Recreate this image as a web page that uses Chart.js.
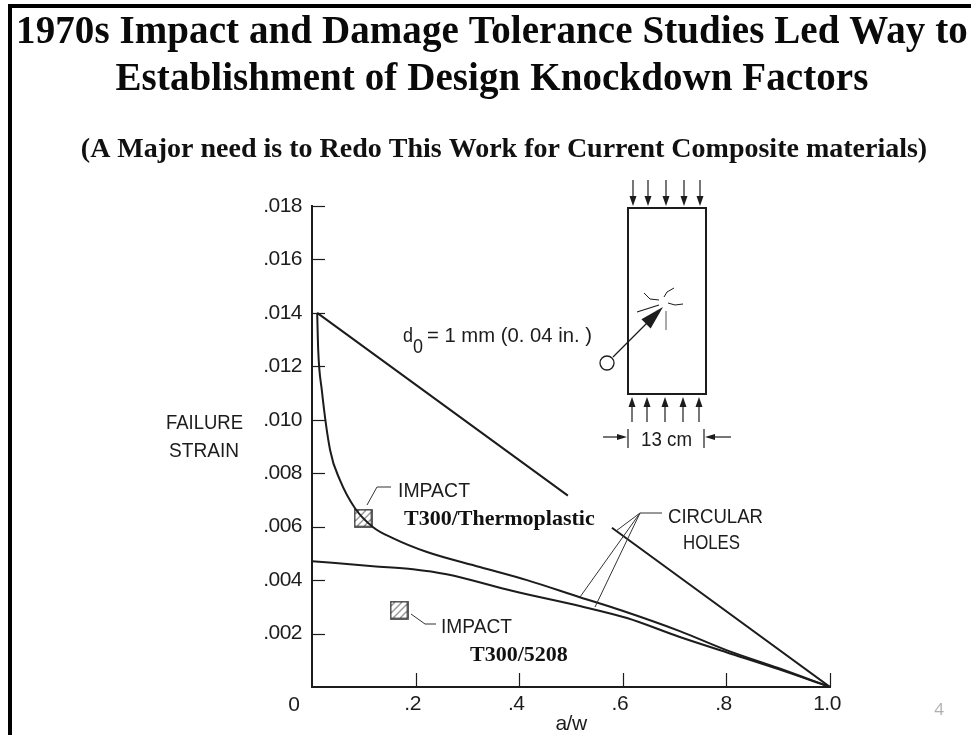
<!DOCTYPE html>
<html><head><meta charset="utf-8">
<style>html,body{margin:0;padding:0;background:#fff}canvas{display:block}</style>
<script src="https://cdn.jsdelivr.net/npm/chart.js@4/dist/chart.umd.min.js"></script>
</head><body>
<canvas id="c" width="971" height="735"></canvas>
<script>
const titleLines = ['1970s Impact and Damage Tolerance Studies Led Way to','Establishment of Design Knockdown Factors'];
const subtitleText = '(A Major need is to Redo This Work for Current Composite materials)';
const xTickValues = [0,0.2,0.4,0.6,0.8,1.0];
const yTickValues = [0.002,0.004,0.006,0.008,0.010,0.012,0.014,0.016,0.018];

const straightA = [0.01,0.494,0.536,0.579,1.0];
const straightStrain = [0.014,0.00716,null,0.00596,0];

const thermoA = [0.01,0.012,0.019,0.035,0.054,0.083,0.118,0.156,0.222,0.324,0.415,0.517,0.595,0.71,0.8,0.9,1.0];
const thermoStrain = [0.014,0.0126,0.0111,0.00886,0.00774,0.00669,0.00598,0.00557,0.00505,0.00449,0.0040,0.00336,0.00288,0.00209,0.00138,0.00071,0];

const t5208A = [0,0.118,0.195,0.26,0.388,0.517,0.608,0.71,0.8,0.9,1.0];
const t5208Strain = [0.00471,0.00452,0.00441,0.00422,0.00359,0.00303,0.00258,0.00187,0.0013,0.00067,0];

const impactA = [0.0985,0.168];
const impactStrain = [0.00632,0.00288];

const INK='#1c1c1c', SANS='"Liberation Sans"', SERIF='"Liberation Serif"';
const pts=(a,b)=>a.map((x,i)=>({x,y:b[i]}));

function hatch(size){
  const c=document.createElement('canvas');c.width=c.height=size;
  const g=c.getContext('2d');g.strokeStyle='#333';g.lineWidth=1;
  g.save();g.beginPath();g.rect(1,1,size-2,size-2);g.clip();
  for(let d=-size;d<size*2;d+=7){g.beginPath();g.moveTo(d,size);g.lineTo(d+size,0);g.stroke();}
  g.restore();
  g.lineWidth=1.6;g.strokeRect(1,1,size-2,size-2);
  return c;
}

function text(ctx,s,x,y,font,sp,color,align,maxW){
  ctx.save();ctx.font=font;ctx.letterSpacing=(sp||0)+'px';ctx.fillStyle=color||INK;
  ctx.textAlign=align||'left';ctx.textBaseline='alphabetic';
  if(maxW)ctx.fillText(s,x,y,maxW);else ctx.fillText(s,x,y);ctx.restore();
}
function poly(ctx,p,w,color){
  ctx.save();ctx.strokeStyle=color||INK;ctx.lineWidth=w||1;ctx.lineJoin='round';ctx.beginPath();
  p.forEach((q,i)=>i?ctx.lineTo(q[0],q[1]):ctx.moveTo(q[0],q[1]));ctx.stroke();ctx.restore();
}
function head(ctx,x,y,ang,len,wid){
  ctx.save();ctx.translate(x,y);ctx.rotate(ang);ctx.fillStyle=INK;ctx.beginPath();
  ctx.moveTo(0,0);ctx.lineTo(-len,-wid/2);ctx.lineTo(-len,wid/2);ctx.closePath();ctx.fill();ctx.restore();
}

const decor={id:'decor',
  beforeDraw(chart){ chart.ctx.letterSpacing='-0.5px'; },
  afterDraw(chart){
    const ctx=chart.ctx, xs=chart.scales.x, ys=chart.scales.y;
    ctx.letterSpacing='0px';
    // frame
    ctx.fillStyle='#000';ctx.fillRect(8,4,963,4);ctx.fillRect(8,4,4,731);
    // titles
    text(ctx,titleLines[0],492,43,'bold 39px '+SERIF,0.08,'#0a0a0a','center');
    text(ctx,titleLines[1],492,90,'bold 39px '+SERIF,0.08,'#0a0a0a','center');
    text(ctx,subtitleText,504,157,'bold 28px '+SERIF,0,'#111','center');
    // inward ticks
    ctx.strokeStyle=INK;ctx.lineWidth=1.2;
    ys.ticks.forEach(t=>{const p=Math.round(ys.getPixelForValue(t.value))+.5;
      if(t.value===0)return;ctx.beginPath();ctx.moveTo(xs.left,p);ctx.lineTo(xs.left+13,p);ctx.stroke();});
    xs.ticks.forEach(t=>{const p=Math.round(xs.getPixelForValue(t.value))+.5;
      if(t.value===0)return;ctx.beginPath();ctx.moveTo(p,ys.bottom);ctx.lineTo(p,ys.bottom-14);ctx.stroke();});
    const LBL='21px '+SANS;
    text(ctx,'0',294,711,LBL,0,INK,'center');
    text(ctx,'FAILURE',166,429,LBL,0,INK,'left',77);
    text(ctx,'STRAIN',169,457,LBL,0,INK,'left',70);
    text(ctx,'IMPACT',398,497,LBL,0,INK,'left',72);
    poly(ctx,[[367,505],[377,487],[391,487]],1,'#333');
    text(ctx,'IMPACT',441,633,LBL,0,INK,'left',71);
    poly(ctx,[[411,614],[425,624],[436,624]],1,'#333');
    text(ctx,'T300/Thermoplastic',404,525,'bold 22px '+SERIF,0,'#111');
    text(ctx,'T300/5208',470,661,'bold 22px '+SERIF,0,'#111');
    text(ctx,'CIRCULAR',668,523,LBL,0,INK,'left',95);
    text(ctx,'HOLES',683,549,LBL,0,INK,'left',57);
    poly(ctx,[[662,513],[640,513],[580,597]],1,'#333');
    poly(ctx,[[640,513],[595,607]],1,'#333');
    poly(ctx,[[640,513],[616,531]],1,'#333');
    text(ctx,'d',403,342,LBL,0,INK,'left',10);
    text(ctx,'0',413,353,LBL,0,INK,'left',10);
    text(ctx,'= 1 mm (0. 04 in. )',427,342,LBL,0,INK,'left',165);
    text(ctx,'13 cm',641,446,LBL,0,INK,'left',51);
    text(ctx,'4',939,715,'17px "Open Sans"',0,'#b0b0b0','center');
    // inset specimen
    ctx.strokeStyle=INK;ctx.lineWidth=2;ctx.strokeRect(628,208,78,186);
    [633,648,666,684,700].forEach(x=>{poly(ctx,[[x,180],[x,200]],1.2);head(ctx,x,206,Math.PI/2,10,7);});
    [632,647,665,683,699].forEach(x=>{poly(ctx,[[x,422],[x,404]],1.2);head(ctx,x,397,-Math.PI/2,10,7);});
    poly(ctx,[[628,429],[628,448]],1.2);poly(ctx,[[704,429],[704,448]],1.2);
    poly(ctx,[[603,437],[618,437]],1.2);head(ctx,627,437,0,10,6);
    poly(ctx,[[731,437],[714,437]],1.2);head(ctx,705,437,Math.PI,10,6);
    ctx.strokeStyle=INK;ctx.lineWidth=1.3;ctx.beginPath();ctx.arc(607,363,7,0,Math.PI*2);ctx.stroke();
    poly(ctx,[[613,357],[650,320]],1.2);
    head(ctx,663,307,-Math.PI*0.25,24,13);
    poly(ctx,[[644,293],[650,299],[659,300]],1);
    poly(ctx,[[664,297],[667,292],[674,288]],1);
    poly(ctx,[[668,303],[675,305],[683,304]],1);
    poly(ctx,[[637,312],[659,305]],1.2);
    poly(ctx,[[666,311],[666,330]],1,'#555');
  }
};

new Chart(document.getElementById('c'),{
  type:'scatter',
  data:{datasets:[
    {label:'Thermoplastic holes',data:pts(thermoA,thermoStrain),showLine:true,borderColor:INK,borderWidth:2,pointRadius:0,cubicInterpolationMode:'monotone'},
    {label:'T300/5208 holes',data:pts(t5208A,t5208Strain),showLine:true,borderColor:INK,borderWidth:2,pointRadius:0,cubicInterpolationMode:'monotone'},
    {label:'Straight',data:pts(straightA,straightStrain),showLine:true,spanGaps:false,borderColor:INK,borderWidth:2,pointRadius:0,tension:0},
    {label:'Impact',data:pts(impactA,impactStrain),showLine:false,pointStyle:hatch(19),pointRadius:10}
  ]},
  plugins:[decor],
  options:{
    responsive:false,animation:false,devicePixelRatio:1,
    layout:{padding:{left:0,right:141,top:206,bottom:0}},
    plugins:{legend:{display:false},tooltip:{enabled:false},title:{display:false}},
    scales:{
      x:{type:'linear',min:0,max:1,
        afterFit:s=>{s.height=48;},
        afterBuildTicks:s=>{s.ticks=xTickValues.map(value=>({value}));},
        grid:{drawOnChartArea:false,drawTicks:false},
        border:{display:true,width:2,color:INK},
        title:{display:true,text:'a/w',color:INK,font:{family:SANS,size:21},padding:{top:0,bottom:-2}},
        ticks:{color:INK,font:{family:SANS,size:21},padding:5,labelOffset:-3,maxRotation:0,autoSkip:false,
          callback:v=>v===0?'':(v===1?'1.0':String(v.toFixed(1)).replace(/^0/,''))}},
      y:{type:'linear',min:0,max:0.018,
        afterFit:s=>{s.width=312;},
        afterBuildTicks:s=>{s.ticks=yTickValues.map(value=>({value}));},
        grid:{drawOnChartArea:false,drawTicks:false},
        border:{display:true,width:2,color:INK},
        ticks:{color:INK,font:{family:SANS,size:21},padding:10,autoSkip:false,
          callback:v=>v.toFixed(3).replace(/^0/,'')}}
    }
  }
});
</script>
</body></html>
